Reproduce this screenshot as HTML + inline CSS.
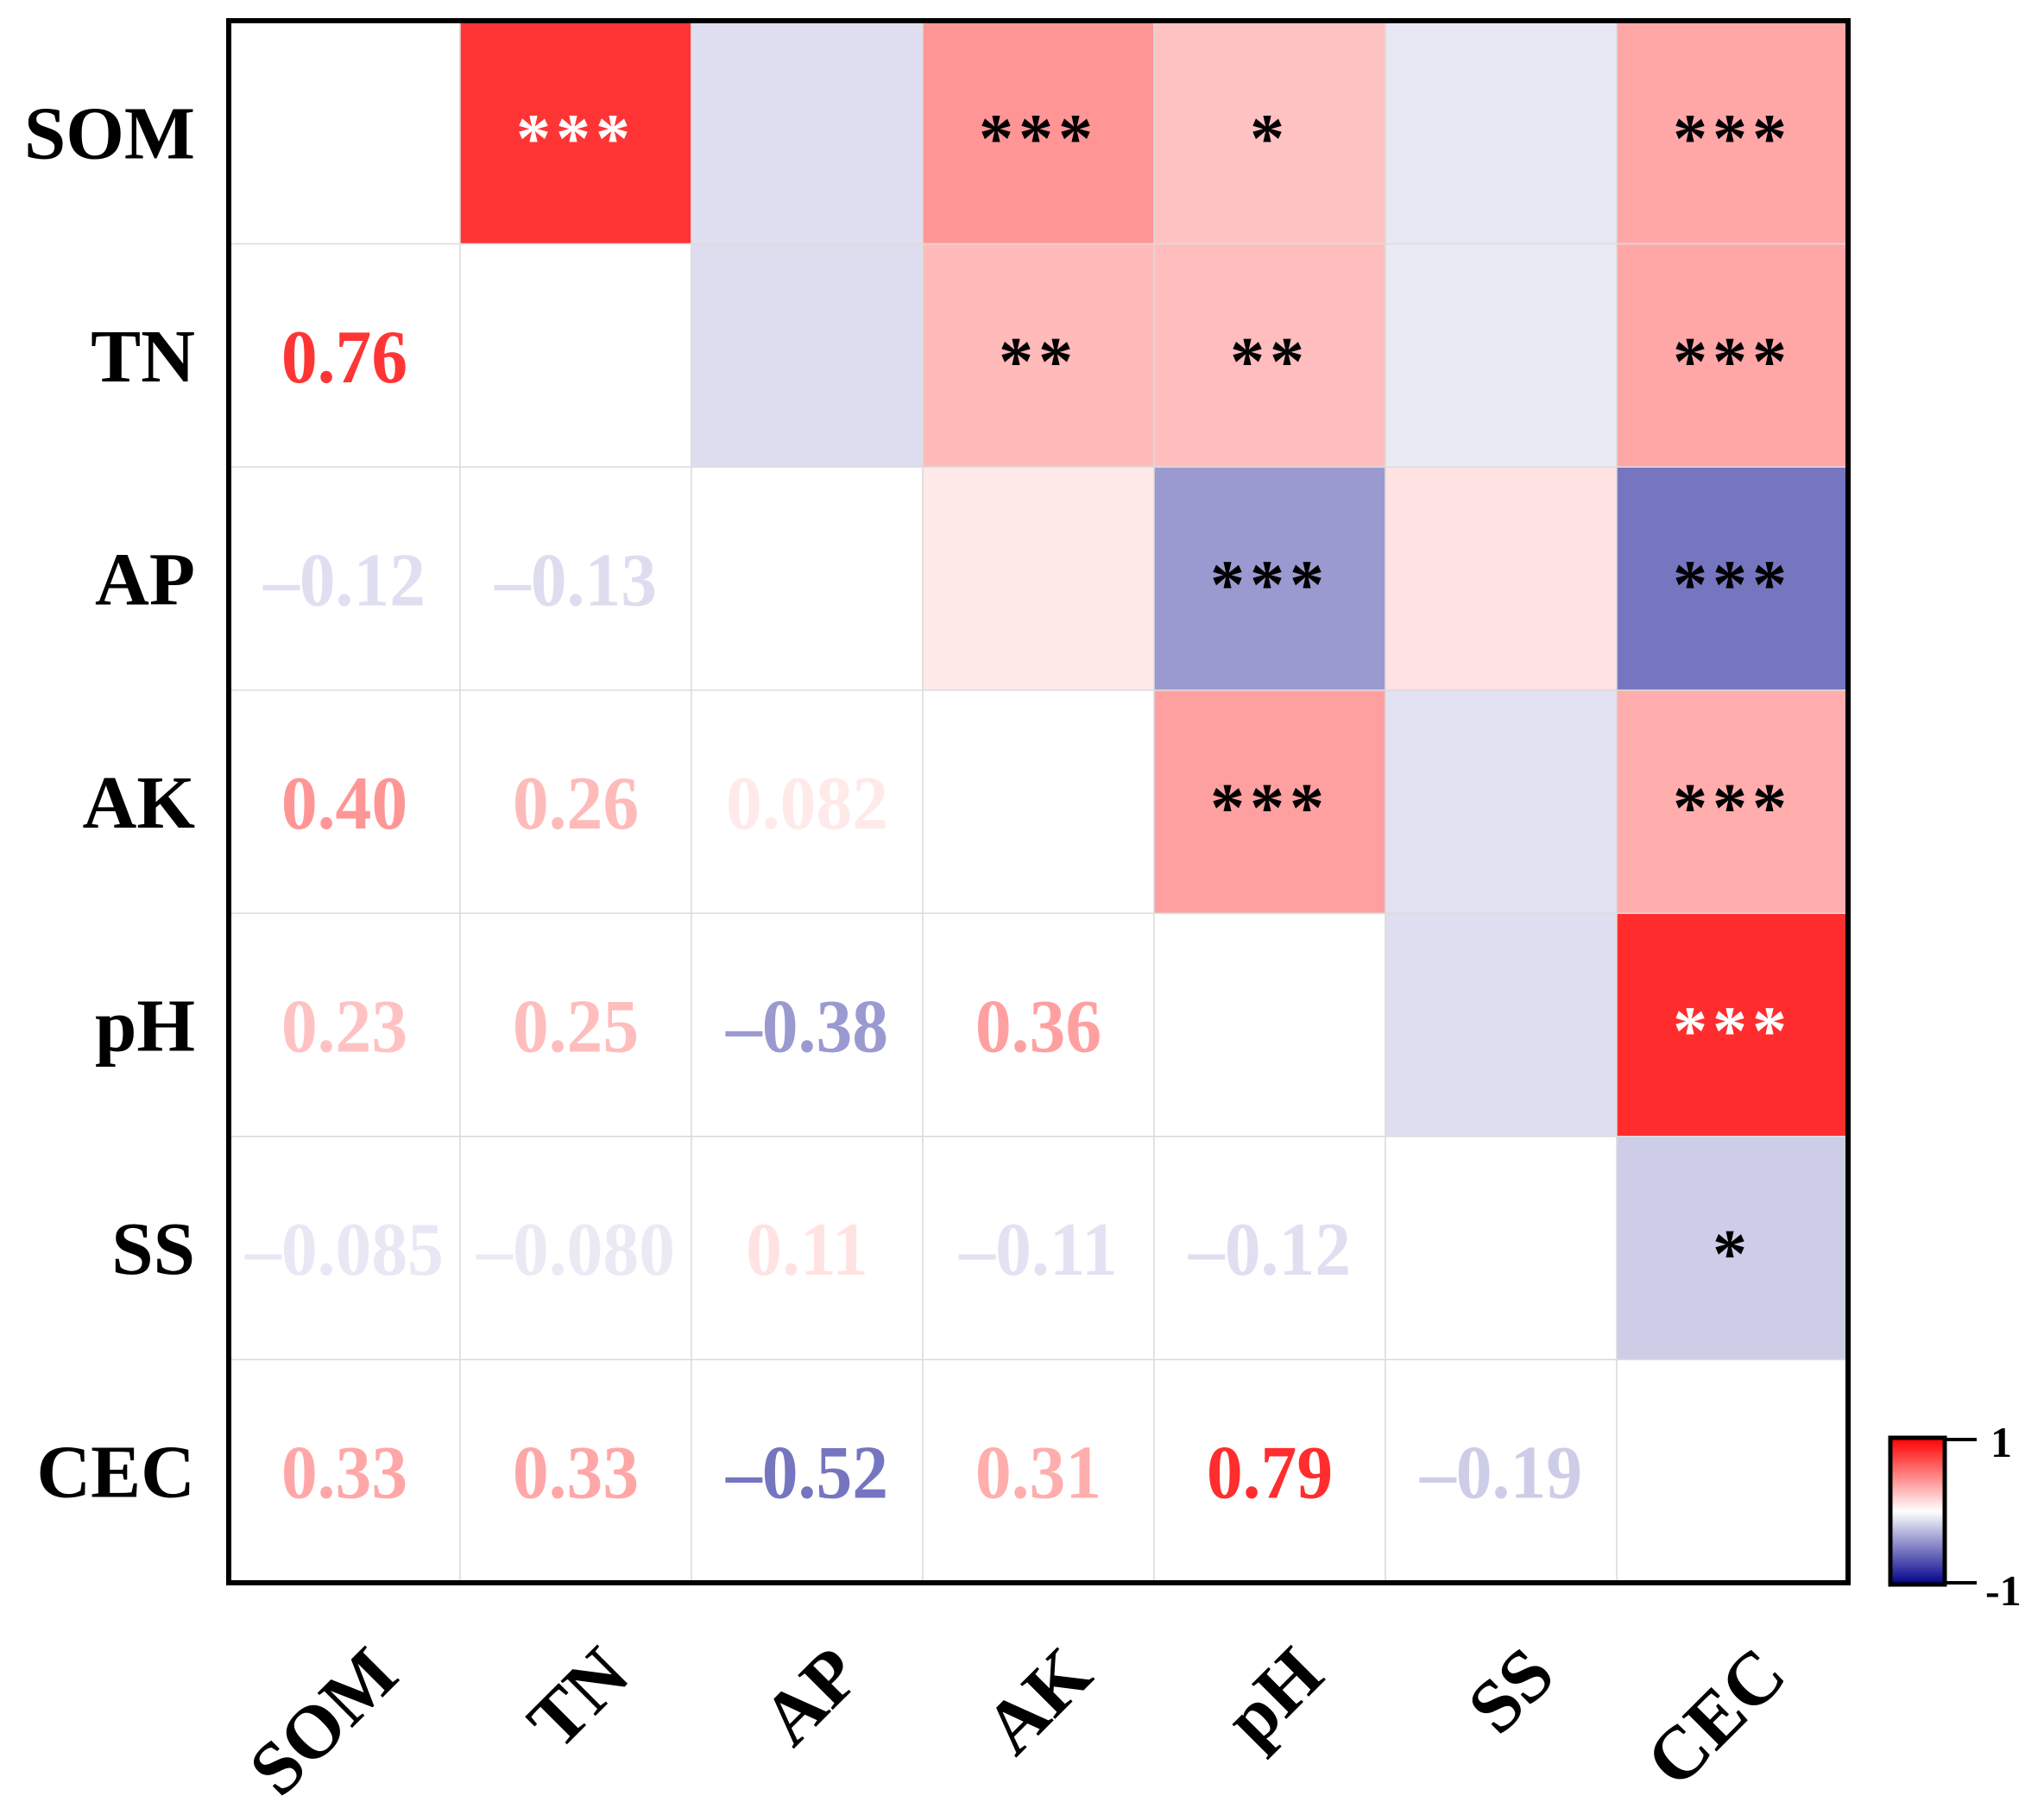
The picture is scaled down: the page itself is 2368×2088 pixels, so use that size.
<!DOCTYPE html>
<html><head><meta charset="utf-8"><style>
html,body{margin:0;padding:0;background:#fff;}
svg{display:block;font-family:"Liberation Serif",serif;font-weight:bold;}
</style></head><body>
<svg id="chart" width="2368" height="2088" viewBox="0 0 2368 2088" xmlns="http://www.w3.org/2000/svg">
<defs>
<linearGradient id="cbar" x1="0" y1="0" x2="0" y2="1">
<stop offset="0" stop-color="#ff0000"/><stop offset="0.5" stop-color="#ffffff"/><stop offset="1" stop-color="#00008b"/>
</linearGradient>
</defs>
<g id="cells"></g>
<g id="labels"></g>
<rect x="265" y="24" width="1876" height="1810" fill="none" stroke="#000" stroke-width="6"/>
<g>
<rect x="2190" y="1666" width="63" height="170" fill="url(#cbar)" stroke="#000" stroke-width="5"/>
<line x1="2253" y1="1668" x2="2290" y2="1668" stroke="#000" stroke-width="4"/>
<line x1="2253" y1="1834" x2="2290" y2="1834" stroke="#000" stroke-width="4"/>
<text x="2306" y="1688" font-size="50">1</text>
<text x="2300" y="1860" font-size="50">-1</text>
</g>
</svg>
<script>
const vars = ["SOM","TN","AP","AK","pH","SS","CEC"];
const corrValues = [
 [1, 0.76, -0.12, 0.40, 0.23, -0.085, 0.33],
 [0.76, 1, -0.13, 0.26, 0.25, -0.080, 0.33],
 [-0.12, -0.13, 1, 0.082, -0.38, 0.11, -0.52],
 [0.40, 0.26, 0.082, 1, 0.36, -0.11, 0.31],
 [0.23, 0.25, -0.38, 0.36, 1, -0.12, 0.79],
 [-0.085, -0.080, 0.11, -0.11, -0.12, 1, -0.19],
 [0.33, 0.33, -0.52, 0.31, 0.79, -0.19, 1]
];
const valueLabels = [
 ["","","","","","",""],
 ["0.76","","","","","",""],
 ["–0.12","–0.13","","","","",""],
 ["0.40","0.26","0.082","","","",""],
 ["0.23","0.25","–0.38","0.36","","",""],
 ["–0.085","–0.080","0.11","–0.11","–0.12","",""],
 ["0.33","0.33","–0.52","0.31","0.79","–0.19",""]
];
const sigStars = [
 ["","***","","***","*","","***"],
 ["","","","**","**","","***"],
 ["","","","","***","","***"],
 ["","","","","***","","***"],
 ["","","","","","","***"],
 ["","","","","","","*"],
 ["","","","","","",""]
];
const NS="http://www.w3.org/2000/svg";
const X0=265, Y0=24, CW=1876/7, RH=1810/7;
function xPos(j){return X0+j*CW;}
function yPos(i){return Y0+i*RH;}
function color(r){
  const t=Math.min(1,Math.abs(r)*1.04);
  if(r>=0){const g=Math.round(255*(1-t));return `rgb(255,${g},${g})`;}
  const c=Math.round(255*(1-t)), b=Math.round(255-(255-139)*t);
  return `rgb(${c},${c},${b})`;
}
const cells=document.getElementById('cells'), labels=document.getElementById('labels'), svg=document.getElementById('chart');
for(let i=0;i<7;i++){for(let j=0;j<7;j++){
  const r=document.createElementNS(NS,'rect');
  r.setAttribute('x',xPos(j));r.setAttribute('y',yPos(i));
  r.setAttribute('width',CW);r.setAttribute('height',RH);
  r.setAttribute('fill', j>i ? color(corrValues[i][j]) : '#fff');
  r.setAttribute('stroke','#dcdcdc');r.setAttribute('stroke-width','1.5');
  
  
  cells.appendChild(r);
  if(j<i){
    const t=document.createElementNS(NS,'text');
    const cx=xPos(j)+CW/2, cy=yPos(i)+RH/2+31;
    t.setAttribute('x',0);t.setAttribute('y',0);
    t.setAttribute('transform',`translate(${cx} ${cy}) scale(0.95 1)`);
    t.setAttribute('text-anchor','middle');t.setAttribute('font-size','88');
    t.setAttribute('fill',color(corrValues[i][j]));
    t.textContent=valueLabels[i][j];
    
    
    labels.appendChild(t);
  }
  if(j>i && sigStars[i][j]){
    const t=document.createElementNS(NS,'text');
    t.setAttribute('x',xPos(j)+CW/2);t.setAttribute('y',yPos(i)+RH/2+34);
    t.setAttribute('text-anchor','middle');t.setAttribute('font-size','80');
    t.setAttribute('letter-spacing','6');
    t.setAttribute('fill',Math.abs(corrValues[i][j])>0.7?'#fff':'#000');
    t.textContent=sigStars[i][j];
    
    
    labels.appendChild(t);
  }
}}
for(let i=0;i<7;i++){
  const t=document.createElementNS(NS,'text');
  t.setAttribute('x',226);t.setAttribute('y',yPos(i)+RH/2+30);
  t.setAttribute('text-anchor','end');t.setAttribute('font-size','87');
  t.textContent=vars[i];
  
  
  svg.appendChild(t);
  const c=document.createElementNS(NS,'text');
  const ex=xPos(i)+CW/2+66, ey=1945;
  c.setAttribute('x',ex);c.setAttribute('y',ey);
  c.setAttribute('text-anchor','end');c.setAttribute('font-size','87');
  c.setAttribute('transform',`rotate(-45 ${ex} ${ey})`);
  c.textContent=vars[i];
  
  
  svg.appendChild(c);
}
</script>
</body></html>
